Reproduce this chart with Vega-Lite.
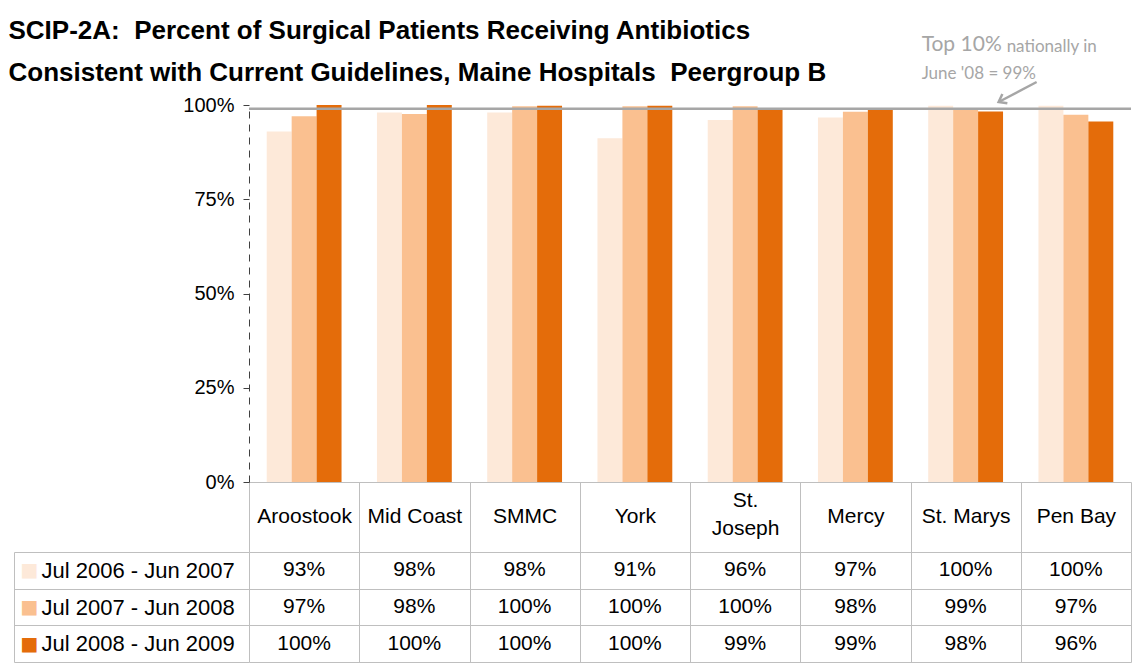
{
  "$schema": "https://vega.github.io/schema/vega-lite/v6.json",
  "padding": {"left": 8, "top": 18, "right": 0, "bottom": 0},
  "autosize": {"type": "pad"},
  "background": "#ffffff",
  "title": {
    "text": ["SCIP-2A:\u00a0 Percent of Surgical Patients Receiving Antibiotics", "Consistent with Current Guidelines, Maine Hospitals\u00a0 Peergroup B"],
    "anchor": "start",
    "font": "Liberation Sans",
    "fontSize": 26,
    "fontWeight": "bold",
    "color": "#000000",
    "lineHeight": 42,
    "offset": -52,
    "dx": -5
  },
  "datasets": {
    "rates": [
      {"hospital": "Aroostook", "period": "Jul 2006 - Jun 2007", "value": 0.93},
      {"hospital": "Aroostook", "period": "Jul 2007 - Jun 2008", "value": 0.97},
      {"hospital": "Aroostook", "period": "Jul 2008 - Jun 2009", "value": 1.0},
      {"hospital": "Mid Coast", "period": "Jul 2006 - Jun 2007", "value": 0.98},
      {"hospital": "Mid Coast", "period": "Jul 2007 - Jun 2008", "value": 0.976},
      {"hospital": "Mid Coast", "period": "Jul 2008 - Jun 2009", "value": 1.0},
      {"hospital": "SMMC", "period": "Jul 2006 - Jun 2007", "value": 0.98},
      {"hospital": "SMMC", "period": "Jul 2007 - Jun 2008", "value": 0.997},
      {"hospital": "SMMC", "period": "Jul 2008 - Jun 2009", "value": 0.998},
      {"hospital": "York", "period": "Jul 2006 - Jun 2007", "value": 0.912},
      {"hospital": "York", "period": "Jul 2007 - Jun 2008", "value": 0.997},
      {"hospital": "York", "period": "Jul 2008 - Jun 2009", "value": 0.998},
      {"hospital": "St. Joseph", "period": "Jul 2006 - Jun 2007", "value": 0.96},
      {"hospital": "St. Joseph", "period": "Jul 2007 - Jun 2008", "value": 0.997},
      {"hospital": "St. Joseph", "period": "Jul 2008 - Jun 2009", "value": 0.99},
      {"hospital": "Mercy", "period": "Jul 2006 - Jun 2007", "value": 0.967},
      {"hospital": "Mercy", "period": "Jul 2007 - Jun 2008", "value": 0.982},
      {"hospital": "Mercy", "period": "Jul 2008 - Jun 2009", "value": 0.99},
      {"hospital": "St. Marys", "period": "Jul 2006 - Jun 2007", "value": 0.998},
      {"hospital": "St. Marys", "period": "Jul 2007 - Jun 2008", "value": 0.99},
      {"hospital": "St. Marys", "period": "Jul 2008 - Jun 2009", "value": 0.983},
      {"hospital": "Pen Bay", "period": "Jul 2006 - Jun 2007", "value": 0.998},
      {"hospital": "Pen Bay", "period": "Jul 2007 - Jun 2008", "value": 0.974},
      {"hospital": "Pen Bay", "period": "Jul 2008 - Jun 2009", "value": 0.956}
    ],
    "benchmark": [
      {"label": "Top 10% nationally in June '08", "value": 0.99}
    ]
  },
  "bounds": "flush",
  "spacing": 70,
  "vconcat": [
    {
      "width": 882,
      "height": 377,
      "layer": [
        {
          "data": {"name": "rates"},
          "mark": {"type": "bar"},
          "encoding": {
            "x": {
              "field": "hospital",
              "type": "nominal",
              "sort": ["Aroostook", "Mid Coast", "SMMC", "York", "St. Joseph", "Mercy", "St. Marys", "Pen Bay"],
              "scale": {"paddingInner": 0, "paddingOuter": 0},
              "axis": {
                "title": null,
                "domain": true,
                "domainColor": "#bfbfbf",
                "domainWidth": 1,
                "ticks": true,
                "tickBand": "extent",
                "tickSize": 70,
                "tickColor": "#bfbfbf",
                "tickWidth": 1,
                "grid": false,
                "labelAngle": 0,
                "labelFont": "Liberation Sans",
                "labelFontSize": 21,
                "labelColor": "#000000",
                "labelBaseline": "middle",
                "labelPadding": {"condition": {"test": "datum.value == 'St. Joseph'", "value": -52}, "value": -36},
                "labelOverlap": false,
                "labelBound": false,
                "labelFlush": false,
                "labelLineHeight": 28,
                "labelExpr": "datum.value == 'St. Joseph' ? ['St.', 'Joseph'] : datum.label"
              }
            },
            "xOffset": {
              "field": "period",
              "type": "nominal",
              "scale": {"paddingInner": 0, "paddingOuter": 0.71}
            },
            "y": {
              "field": "value",
              "type": "quantitative",
              "scale": {"domain": [0, 1], "nice": false},
              "axis": {
                "title": null,
                "values": [0, 0.25, 0.5, 0.75, 1],
                "format": ".0%",
                "grid": false,
                "domain": true,
                "domainColor": "#404040",
                "domainDash": [7, 6],
                "domainWidth": 1,
                "ticks": true,
                "tickSize": 6,
                "tickColor": "#404040",
                "labelFont": "Liberation Sans",
                "labelFontSize": 20,
                "labelColor": "#000000",
                "labelPadding": 9
              }
            },
            "color": {
              "field": "period",
              "type": "nominal",
              "scale": {
                "domain": ["Jul 2006 - Jun 2007", "Jul 2007 - Jun 2008", "Jul 2008 - Jun 2009"],
                "range": ["#fde9d9", "#fac090", "#e46c0a"]
              },
              "legend": null
            }
          }
        },
        {
          "data": {"name": "benchmark"},
          "mark": {"type": "rule", "color": "#a6a6a6", "strokeWidth": 2.5},
          "encoding": {
            "y": {"field": "value", "type": "quantitative"}
          }
        },
        {
          "data": {"name": "benchmark"},
          "mark": {"type": "text", "text": "Top 10%", "align": "left", "baseline": "alphabetic", "font": "Lato", "fontSize": 21, "color": "#a6a6a6", "dx": -44, "dy": -54},
          "encoding": {
            "x": {"datum": "St. Marys"},
            "y": {"datum": 1}
          }
        },
        {
          "data": {"name": "benchmark"},
          "mark": {"type": "text", "text": "nationally in", "align": "left", "baseline": "alphabetic", "font": "Lato", "fontSize": 17, "color": "#a6a6a6", "dx": 41, "dy": -53},
          "encoding": {
            "x": {"datum": "St. Marys"},
            "y": {"datum": 1}
          }
        },
        {
          "data": {"name": "benchmark"},
          "mark": {"type": "text", "text": "June '08 = 99%", "align": "left", "baseline": "alphabetic", "font": "Lato", "fontSize": 17, "color": "#a6a6a6", "dx": -44, "dy": -26},
          "encoding": {
            "x": {"datum": "St. Marys"},
            "y": {"datum": 1}
          }
        },
        {
          "data": {"name": "benchmark"},
          "mark": {"type": "rule", "color": "#a6a6a6", "strokeWidth": 2.5, "xOffset": 33, "x2Offset": 71},
          "encoding": {
            "x": {"datum": "St. Marys"},
            "x2": {"datum": "St. Marys"},
            "y": {"datum": 1.008},
            "y2": {"datum": 1.061}
          }
        },
        {
          "data": {"name": "benchmark"},
          "mark": {"type": "point", "shape": "M-1,-0.75L0,0L-1,0.75", "filled": false, "stroke": "#a6a6a6", "strokeWidth": 2.5, "size": 200, "angle": 152, "xOffset": 33, "opacity": 1},
          "encoding": {
            "x": {"datum": "St. Marys"},
            "y": {"datum": 1.008}
          }
        }
      ]
    },
    {
      "width": 882,
      "height": 110,
      "data": {"name": "rates"},
      "layer": [
        {
          "mark": {"type": "text", "font": "Liberation Sans", "fontSize": 21, "color": "#000000"},
          "encoding": {
            "x": {
              "field": "hospital",
              "type": "nominal",
              "sort": ["Aroostook", "Mid Coast", "SMMC", "York", "St. Joseph", "Mercy", "St. Marys", "Pen Bay"],
              "scale": {"paddingInner": 0, "paddingOuter": 0},
              "axis": {
                "title": null,
                "labels": false,
                "ticks": false,
                "domain": false,
                "grid": true,
                "tickBand": "extent",
                "gridColor": "#bfbfbf",
                "gridWidth": 1
              }
            },
            "y": {
              "field": "period",
              "type": "nominal",
              "sort": ["Jul 2006 - Jun 2007", "Jul 2007 - Jun 2008", "Jul 2008 - Jun 2009"],
              "scale": {"paddingInner": 0, "paddingOuter": 0},
              "axis": {
                "title": null,
                "domain": false,
                "grid": true,
                "gridColor": "#bfbfbf",
                "gridWidth": 1,
                "tickBand": "extent",
                "ticks": true,
                "tickSize": 235,
                "tickColor": "#bfbfbf",
                "tickWidth": 1,
                "labelAlign": "left",
                "labelBaseline": "middle",
                "labelPadding": -27,
                "labelFont": "Liberation Sans",
                "labelFontSize": 22,
                "labelColor": "#000000",
                "labelLimit": 400,
                "labelBound": false,
                "labelOverlap": false
              }
            },
            "text": {"field": "value", "type": "quantitative", "format": ".0%"}
          }
        },
        {
          "mark": {"type": "point", "opacity": 0},
          "encoding": {
            "y": {
              "field": "period",
              "type": "nominal",
              "sort": ["Jul 2006 - Jun 2007", "Jul 2007 - Jun 2008", "Jul 2008 - Jun 2009"],
              "axis": {
                "title": null,
                "orient": "left",
                "offset": 235,
                "domain": true,
                "domainColor": "#bfbfbf",
                "domainWidth": 1,
                "ticks": false,
                "grid": false,
                "labelExpr": "'■'",
                "labelAlign": "left",
                "labelBaseline": "middle",
                "labelPadding": -6,
                "labelFont": "DejaVu Sans",
                "labelFontSize": 19,
                "labelOverlap": false,
                "labelColor": {
                  "condition": [
                    {"test": "datum.value == 'Jul 2006 - Jun 2007'", "value": "#fde9d9"},
                    {"test": "datum.value == 'Jul 2007 - Jun 2008'", "value": "#fac090"}
                  ],
                  "value": "#e46c0a"
                }
              }
            }
          }
        }
      ],
      "resolve": {"axis": {"y": "independent"}}
    }
  ],
  "config": {
    "view": {"stroke": null},
    "font": "Liberation Sans"
  }
}
